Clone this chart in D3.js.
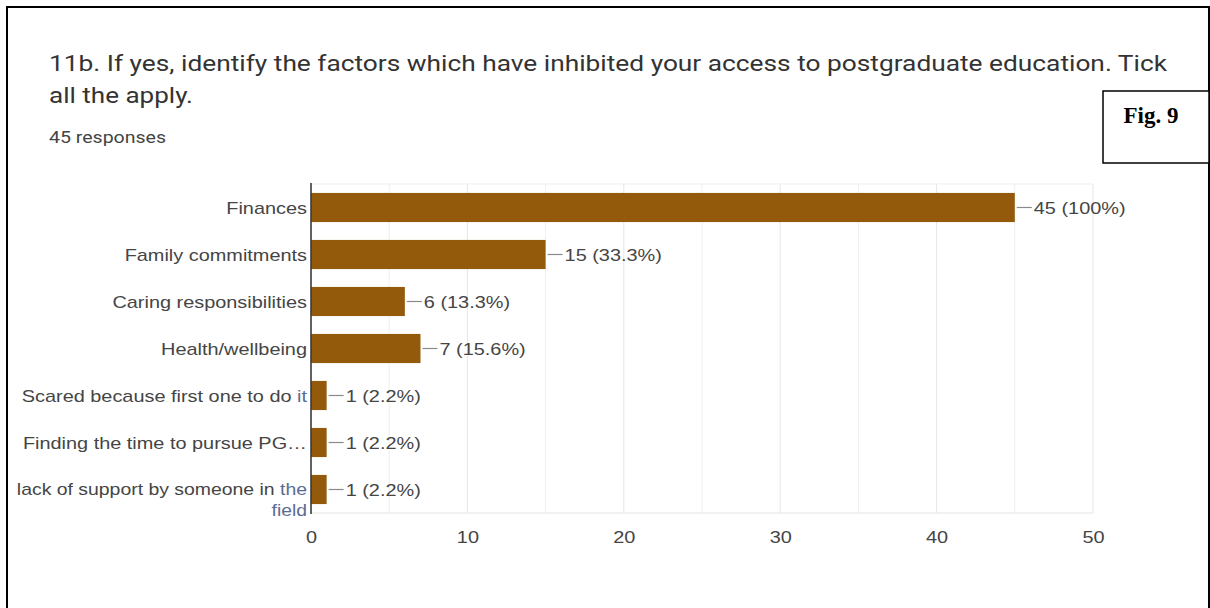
<!DOCTYPE html>
<html>
<head>
<meta charset="utf-8">
<script src="https://cdn.jsdelivr.net/npm/d3@7"></script>
<style>
  html, body { margin: 0; padding: 0; background: #fff; }
  svg { display: block; }
</style>
</head>
<body>
<svg id="chart" width="1210" height="608"></svg>
<script>
// ---- data ----
const categories = [
  "Finances",
  "Family commitments",
  "Caring responsibilities",
  "Health/wellbeing",
  "Scared because first one to do it",
  "Finding the time to pursue PG\u2026",
  "lack of support by someone in the field"
];
const counts = [45, 15, 6, 7, 1, 1, 1];
const percents = ["100%", "33.3%", "13.3%", "15.6%", "2.2%", "2.2%", "2.2%"];
const xTicks = [0, 10, 20, 30, 40, 50];
const gridValues = [5, 10, 15, 20, 25, 30, 35, 40, 45, 50];
const titleLine1 = "11b. If yes, identify the factors which have inhibited your access to postgraduate education. Tick";
const titleLine2 = "all the apply.";
const subtitle = "45 responses";
const figLabel = "Fig. 9";
// category label pieces (text, highlighted?) to mimic the reference's rendering
const labelParts = [
  [["Finances", false]],
  [["Family commitments", false]],
  [["Caring responsibilities", false]],
  [["Health/wellbeing", false]],
  [["Scared because first one to do ", false], ["it", true]],
  [["Finding the time to pursue PG\u2026", false]],
  [["lack of support by someone in ", false], ["the", true]]
];
const labelSecondLine = [null, null, null, null, null, null, "field"];

// ---- layout ----
const svg = d3.select("#chart");
const SX = 1.17;              // horizontal stretch of the reference image text
const FONT = "'Liberation Sans', Arial, sans-serif";
const FS = 17;
const plot = { left: 311, right: 1093, top: 184, bottom: 513 };
const barColor = "#935a0c";
const textColor = "#454545";
const hiColor = "#5a6c94";

// frame
svg.append("rect").attr("x", 7).attr("y", 7).attr("width", 1202).attr("height", 700)
  .attr("fill", "none").attr("stroke", "#000").attr("stroke-width", 2);

// title
svg.append("text").attr("x", 49).attr("y", 71).text(titleLine1)
  .attr("font-family", "Roboto, 'Noto Sans', sans-serif").attr("font-size", 22)
  .attr("fill", "#333").attr("textLength", 1118).attr("lengthAdjust", "spacingAndGlyphs");
svg.append("text").attr("x", 49).attr("y", 103).text(titleLine2)
  .attr("font-family", "Roboto, 'Noto Sans', sans-serif").attr("font-size", 22)
  .attr("fill", "#333").attr("textLength", 144).attr("lengthAdjust", "spacingAndGlyphs");
svg.append("text").attr("x", 49).attr("y", 143).text(subtitle)
  .attr("font-family", "Roboto, 'Noto Sans', sans-serif").attr("font-size", 16)
  .attr("fill", "#444").attr("textLength", 117).attr("lengthAdjust", "spacingAndGlyphs");

// fig box
svg.append("rect").attr("x", 1103).attr("y", 91).attr("width", 106).attr("height", 72)
  .attr("fill", "#fff").attr("stroke", "#000").attr("stroke-width", 1.5);
svg.append("text").attr("x", 1151).attr("y", 123).attr("text-anchor", "middle").text(figLabel)
  .attr("font-family", "'Liberation Serif', 'Times New Roman', serif").attr("font-weight", "bold")
  .attr("font-size", 23).attr("fill", "#000");

// scales
const x = d3.scaleLinear().domain([0, 50]).range([plot.left, plot.right]);
const y = d3.scaleBand().domain(categories).range([plot.top, plot.bottom])
  .paddingInner(0.38).paddingOuter(0.19);

// gridlines
svg.append("g").selectAll("line").data(gridValues).join("line")
  .attr("x1", d => x(d)).attr("x2", d => x(d))
  .attr("y1", plot.top).attr("y2", plot.bottom)
  .attr("stroke", d => d % 10 === 0 ? "#e6e6e6" : "#efefef").attr("stroke-width", 1);
svg.append("line").attr("x1", plot.left).attr("x2", plot.right)
  .attr("y1", plot.top).attr("y2", plot.top).attr("stroke", "#efefef");
svg.append("line").attr("x1", plot.left).attr("x2", plot.right)
  .attr("y1", plot.bottom).attr("y2", plot.bottom).attr("stroke", "#e3e3e3");

// x axis tick labels via d3 axis
const xAxis = d3.axisBottom(x).tickValues(xTicks).tickSize(0).tickPadding(0).tickFormat(d3.format("d"));
const gx = svg.append("g").attr("transform", `translate(0, ${plot.bottom})`).call(xAxis);
gx.select(".domain").remove();
gx.selectAll(".tick text")
  .attr("font-family", FONT).attr("font-size", FS).attr("fill", textColor)
  .attr("dy", null).attr("y", 30).attr("x", 0)
  .attr("transform", `scale(${SX},1)`);

// bars
svg.append("g").selectAll("rect").data(categories).join("rect")
  .attr("x", x(0)).attr("y", d => y(d))
  .attr("width", (d, i) => x(counts[i]) - x(0))
  .attr("height", y.bandwidth())
  .attr("fill", barColor);

// axis line (vertical)
svg.append("line").attr("x1", plot.left).attr("x2", plot.left)
  .attr("y1", plot.top - 1).attr("y2", plot.bottom + 1)
  .attr("stroke", "#3a3a3a").attr("stroke-width", 1.6);

// value labels
const vl = svg.append("g").selectAll("g").data(categories).join("g")
  .attr("transform", (d, i) => `translate(${x(counts[i])}, ${y(d) + y.bandwidth() / 2})`);
vl.append("line").attr("x1", 2).attr("x2", 17).attr("y1", 0).attr("y2", 0)
  .attr("stroke", "#8a8a8a").attr("stroke-width", 1.2);
vl.append("text").attr("transform", `translate(19,0) scale(${SX},1)`)
  .attr("dy", "0.36em").attr("font-family", FONT).attr("font-size", FS).attr("fill", textColor)
  .text((d, i) => `${counts[i]} (${percents[i]})`);

// category labels
const cl = svg.append("g").selectAll("g").data(categories).join("g")
  .attr("transform", d => `translate(${plot.left - 4}, ${y(d) + y.bandwidth() / 2}) scale(${SX},1)`);
cl.append("text").attr("text-anchor", "end").attr("dy", "0.36em")
  .attr("font-family", FONT).attr("font-size", (d, i) => labelSecondLine[i] ? 16.6 : FS)
  .attr("fill", textColor)
  .each(function (d, i) {
    const t = d3.select(this);
    labelParts[i].forEach(([s, hi]) => {
      t.append("tspan").text(s).attr("fill", hi ? hiColor : textColor);
    });
  });
cl.filter((d, i) => labelSecondLine[i]).append("text")
  .attr("text-anchor", "end").attr("dy", "0.36em").attr("y", 21)
  .attr("font-family", FONT).attr("font-size", 16.5).attr("fill", hiColor)
  .text(d => labelSecondLine[categories.indexOf(d)]);
</script>
</body>
</html>
